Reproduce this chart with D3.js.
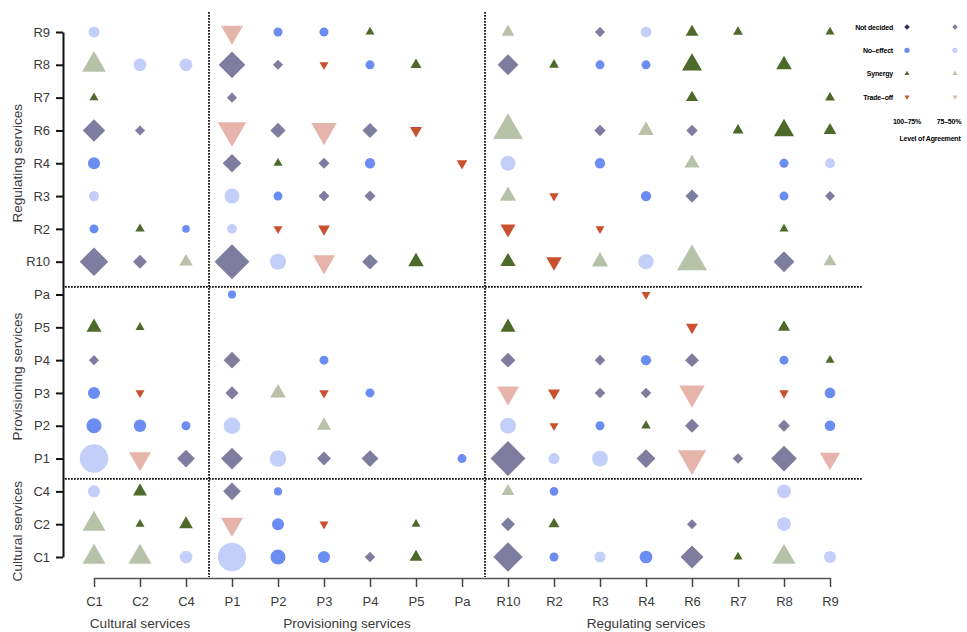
<!DOCTYPE html>
<html><head><meta charset="utf-8">
<script src="https://cdn.jsdelivr.net/npm/d3@7"></script>
<style>
html,body{margin:0;padding:0;background:#fff;}
svg{display:block;}
text{font-family:"Liberation Sans", Arial, Helvetica, sans-serif;}
</style></head><body>
<svg id="chart" width="967" height="632"></svg>
<script>
// ---------------- DATA ----------------
const xCategories = ["C1","C2","C4","P1","P2","P3","P4","P5","Pa","R10","R2","R3","R4","R6","R7","R8","R9"];
const yCategories = ["C1","C2","C4","P1","P2","P3","P4","P5","Pa","R10","R2","R3","R4","R6","R7","R8","R9"]; // bottom -> top
const groupNames = ["Cultural services","Provisioning services","Regulating services"];
const groupPrefixes = ["C","P","R"];
const effectCodes = ["ND","NE","SY","TO"];
const effectLabels = ["Not decided","No\u2013effect","Synergy","Trade\u2013off"];
const agreementCodes = ["H","L"];
const agreementLabels = ["100\u201375%","75\u201350%"];
const legendTitle = "Level of Agreement";

// each entry: [column, effect, agreement level, estimated count]
const rowR9 = [["C1","NE","L",1.5],["P1","TO","L",6],["P2","NE","H",1],["P3","NE","H",1],["P4","SY","H",1],["R10","SY","L",2],["R3","ND","L",1],["R4","NE","L",1.4],["R6","SY","H",2],["R7","SY","H",1.2],["R9","SY","H",1]];
const rowR8 = [["C1","SY","L",7],["C2","NE","L",2],["C4","NE","L",2],["P1","ND","L",7],["P2","ND","L",1],["P3","TO","H",1],["P4","NE","H",1],["P5","SY","H",1.5],["R10","ND","L",4.3],["R2","SY","H",1.2],["R3","NE","H",1],["R4","NE","H",1],["R6","SY","H",5],["R8","SY","H",3]];
const rowR7 = [["C1","SY","H",1],["P1","ND","L",1],["R6","SY","H",1.8],["R9","SY","H",1.2]];
const rowR6 = [["C1","ND","L",5],["C2","ND","L",1],["P1","TO","L",10],["P2","ND","L",2.3],["P3","TO","L",8],["P4","ND","L",2.2],["P5","TO","H",1.8],["R10","SY","L",11],["R3","ND","L",1.3],["R4","SY","L",3],["R6","ND","L",1.3],["R7","SY","H",1.5],["R8","SY","H",5],["R9","SY","H",2]];
const rowR4 = [["C1","NE","H",1.8],["P1","ND","L",3.4],["P2","SY","H",1],["P3","ND","L",1.2],["P4","NE","H",1.3],["Pa","TO","H",1.4],["R10","NE","L",2.8],["R3","NE","H",1.3],["R6","SY","L",2.8],["R8","NE","H",1],["R9","NE","L",1.2]];
const rowR3 = [["C1","NE","L",1.3],["P1","NE","L",2.8],["P2","NE","H",1],["P3","ND","L",1.2],["P4","ND","L",1.2],["R10","SY","L",3.3],["R2","TO","H",1.1],["R4","NE","H",1.3],["R6","ND","L",1.7],["R8","NE","H",1],["R9","ND","L",1]];
const rowR2 = [["C1","NE","H",1],["C2","SY","H",1.1],["C4","NE","H",0.7],["P1","NE","L",1.2],["P2","TO","H",1],["P3","TO","H",1.7],["R10","TO","H",2.8],["R3","TO","H",1],["R8","SY","H",1]];
const rowR10 = [["C1","ND","L",8],["C2","ND","L",1.9],["C4","SY","L",2.2],["P1","ND","L",12],["P2","NE","L",3.2],["P3","TO","L",6],["P4","ND","L",2.4],["P5","SY","H",3],["R10","SY","H",2.9],["R2","TO","H",3],["R3","SY","L",3.4],["R4","NE","L",2.9],["R6","SY","L",11],["R8","ND","L",4.3],["R9","SY","L",2]];
const rowPa = [["P1","NE","H",0.8],["R4","TO","H",1]];
const rowP5 = [["C1","SY","H",2.8],["C2","SY","H",1],["R10","SY","H",2.8],["R6","TO","H",1.8],["R8","SY","H",1.8]];
const rowP4 = [["C1","ND","L",1],["P1","ND","L",2.8],["P3","NE","H",1],["R10","ND","L",2.2],["R3","ND","L",1.1],["R4","NE","H",1.3],["R6","ND","L",1.9],["R8","NE","H",1],["R9","SY","H",1]];
const rowP3 = [["C1","NE","H",1.8],["C2","TO","H",1],["P1","ND","L",1.7],["P2","SY","L",3],["P3","TO","H",1.1],["P4","NE","H",1],["R10","TO","L",6],["R2","TO","H",1.8],["R3","ND","L",1.1],["R4","ND","L",1.1],["R6","TO","L",8],["R8","TO","H",1.1],["R9","NE","H",1.4]];
const rowP2 = [["C1","NE","H",2.8],["C2","NE","H",1.9],["C4","NE","H",1],["P1","NE","L",3.4],["P3","SY","L",2.5],["R10","NE","L",3.1],["R2","TO","H",1],["R3","NE","H",1],["R4","SY","H",1.1],["R6","ND","L",1.9],["R8","ND","L",1.4],["R9","NE","H",1.4]];
const rowP1 = [["C1","NE","L",10],["C2","TO","L",6],["C4","ND","L",3.1],["P1","ND","L",4.7],["P2","NE","L",3.4],["P3","ND","L",1.9],["P4","ND","L",2.8],["Pa","NE","H",1],["R10","ND","L",12],["R2","NE","L",1.5],["R3","NE","L",3.1],["R4","ND","L",3.5],["R6","TO","L",10],["R7","ND","L",1.1],["R8","ND","L",6.5],["R9","TO","L",5]];
const rowC4 = [["C1","NE","L",1.8],["C2","SY","H",2.4],["P1","ND","L",3.1],["P2","NE","H",0.8],["R10","SY","L",2],["R2","NE","H",0.9],["R8","NE","L",2.4]];
const rowC2 = [["C1","SY","L",6.6],["C2","SY","H",1],["C4","SY","H",2.3],["P1","TO","L",6],["P2","NE","H",1.8],["P3","TO","H",1],["P5","SY","H",1],["R10","ND","L",1.9],["R2","SY","H",1.5],["R6","ND","L",1],["R8","NE","L",2.4]];
const rowC1 = [["C1","SY","L",6.6],["C2","SY","L",6.6],["C4","NE","L",2],["P1","NE","L",10],["P2","NE","H",2.8],["P3","NE","H",1.8],["P4","ND","L",1.1],["P5","SY","H",2],["R10","ND","L",8.5],["R2","NE","H",1],["R3","NE","L",1.5],["R4","NE","H",2],["R6","ND","L",5.2],["R7","SY","H",1],["R8","SY","L",6.6],["R9","NE","L",1.8]];

const rows = {R9:rowR9,R8:rowR8,R7:rowR7,R6:rowR6,R4:rowR4,R3:rowR3,R2:rowR2,R10:rowR10,
              Pa:rowPa,P5:rowP5,P4:rowP4,P3:rowP3,P2:rowP2,P1:rowP1,C4:rowC4,C2:rowC2,C1:rowC1};

// ---------------- STYLE ----------------
const palette = {
  ND:{H:"#2d2d5e",L:"#7f7d9f"},
  NE:{H:"#6b8df1",L:"#c3cff8"},
  SY:{H:"#4d6a2a",L:"#b8c2a8"},
  TO:{H:"#c9512f",L:"#e6b4ab"}
};

const svg = d3.select("#chart");

const x = d3.scalePoint().domain(xCategories).range([94, 830]);
const y = d3.scalePoint().domain(yCategories).range([557, 32]);
const yIdx = d3.scaleLinear().domain([0, yCategories.length - 1]).range([557, 32]);
const xIdx = d3.scaleLinear().domain([0, xCategories.length - 1]).range([94, 830]);
const wScale = d3.scaleSqrt().domain([0, 16]).range([0, 36]);

function symbolPath(effect, n) {
  let w = wScale(n);
  let type, size;
  if (effect === "ND") { w *= 1.12; type = d3.symbolSquare; size = w * w / 2; }
  else if (effect === "NE") { type = d3.symbolCircle; size = Math.PI * w * w / 4; }
  else { type = d3.symbolTriangle; size = Math.sqrt(3) * w * w / 4; }
  return d3.symbol().type(type).size(size)();
}
function symbolRotation(effect) {
  return effect === "ND" ? 45 : (effect === "TO" ? 180 : 0);
}

// ---------------- DIVIDERS ----------------
const dots = svg.append("g").attr("stroke", "#111").attr("stroke-width", 1.8)
  .attr("stroke-dasharray", "1.8,1.2").attr("fill", "none");
[2.5, 8.5].forEach(i => {
  dots.append("line").attr("x1", xIdx(i)).attr("x2", xIdx(i)).attr("y1", 12).attr("y2", 577);
});
[2.38, 8.23].forEach(i => {
  dots.append("line").attr("x1", 65).attr("x2", 862).attr("y1", yIdx(i)).attr("y2", yIdx(i));
});

// ---------------- POINTS ----------------
const points = [];
Object.keys(rows).forEach(r => rows[r].forEach(d => points.push({row:r, col:d[0], effect:d[1], agree:d[2], n:d[3]})));

svg.append("g").selectAll("path").data(points).join("path")
  .attr("d", d => symbolPath(d.effect, d.n))
  .attr("transform", d => `translate(${x(d.col)},${y(d.row)}) rotate(${symbolRotation(d.effect)})`)
  .attr("fill", d => palette[d.effect][d.agree]);

// ---------------- AXES ----------------
const yAxis = svg.append("g").attr("transform", "translate(63,0)")
  .call(d3.axisLeft(y).tickSize(7).tickSizeOuter(0).tickPadding(6));
yAxis.select(".domain").attr("stroke", "#111").attr("stroke-width", 2);
yAxis.selectAll(".tick line").attr("stroke", "#111").attr("stroke-width", 2);
yAxis.selectAll(".tick text").attr("font-size", 13).attr("fill", "#3a3a3a")
  .attr("font-family", "Liberation Sans, Arial, sans-serif");

const xAxis = svg.append("g").attr("transform", "translate(0,578)")
  .call(d3.axisBottom(x).tickSize(9).tickSizeOuter(0).tickPadding(10));
xAxis.select(".domain").attr("stroke", "#555").attr("stroke-width", 1.5);
xAxis.selectAll(".tick line").attr("stroke", "#444").attr("stroke-width", 1.5);
xAxis.selectAll(".tick text").attr("font-size", 13).attr("fill", "#3a3a3a")
  .attr("font-family", "Liberation Sans, Arial, sans-serif");

// group titles
function xGroupCenter(prefix) {
  const members = xCategories.filter(c => c[0] === prefix);
  if (prefix === "P") {
    const k = members.length / 2;
    return (x(members[k - 1]) + x(members[k])) / 2;
  }
  return x(members[Math.floor((members.length - 1) / 2)]);
}
function yGroupCenter(prefix) {
  if (prefix === "R") return y("R4");
  if (prefix === "P") return (y("P4") + y("P3")) / 2;
  return y("C2") + 7;
}
groupPrefixes.forEach((p, i) => {
  svg.append("text")
    .attr("x", xGroupCenter(p)).attr("y", 628)
    .attr("text-anchor", "middle").attr("font-size", 13.6).attr("fill", "#3a3a3a")
    .text(groupNames[i]);
  svg.append("text")
    .attr("transform", `translate(22,${yGroupCenter(p)}) rotate(-90)`)
    .attr("text-anchor", "middle").attr("font-size", 13.6).attr("fill", "#3a3a3a")
    .text(groupNames[i]);
});

// ---------------- LEGEND ----------------
const legend = svg.append("g");
const legRowY = d3.scalePoint().domain(effectCodes).range([27, 97]);
const legColX = d3.scalePoint().domain(agreementCodes).range([907, 955]);
effectCodes.forEach((e, i) => {
  legend.append("text").attr("x", 893).attr("y", legRowY(e) + 2.5)
    .attr("text-anchor", "end").attr("font-size", 7).attr("font-weight", "bold")
    .attr("fill", "#000").attr("letter-spacing", -0.2).text(effectLabels[i]);
  agreementCodes.forEach(a => {
    legend.append("path")
      .attr("d", symbolPath(e, e === "NE" ? 0.35 : 0.3))
      .attr("transform", `translate(${legColX(a)},${legRowY(e)}) rotate(${symbolRotation(e)})`)
      .attr("fill", palette[e][a]);
  });
});
agreementCodes.forEach((a, i) => {
  legend.append("text").attr("x", a === "H" ? legColX(a) : legColX(a) - 6).attr("y", 123.5)
    .attr("text-anchor", "middle").attr("font-size", 7).attr("font-weight", "bold")
    .attr("fill", "#000").attr("letter-spacing", -0.2).text(agreementLabels[i]);
});
legend.append("text").attr("x", 930).attr("y", 140.5)
  .attr("text-anchor", "middle").attr("font-size", 7).attr("font-weight", "bold")
  .attr("fill", "#000").attr("letter-spacing", -0.2).text(legendTitle);
</script>
</body></html>
